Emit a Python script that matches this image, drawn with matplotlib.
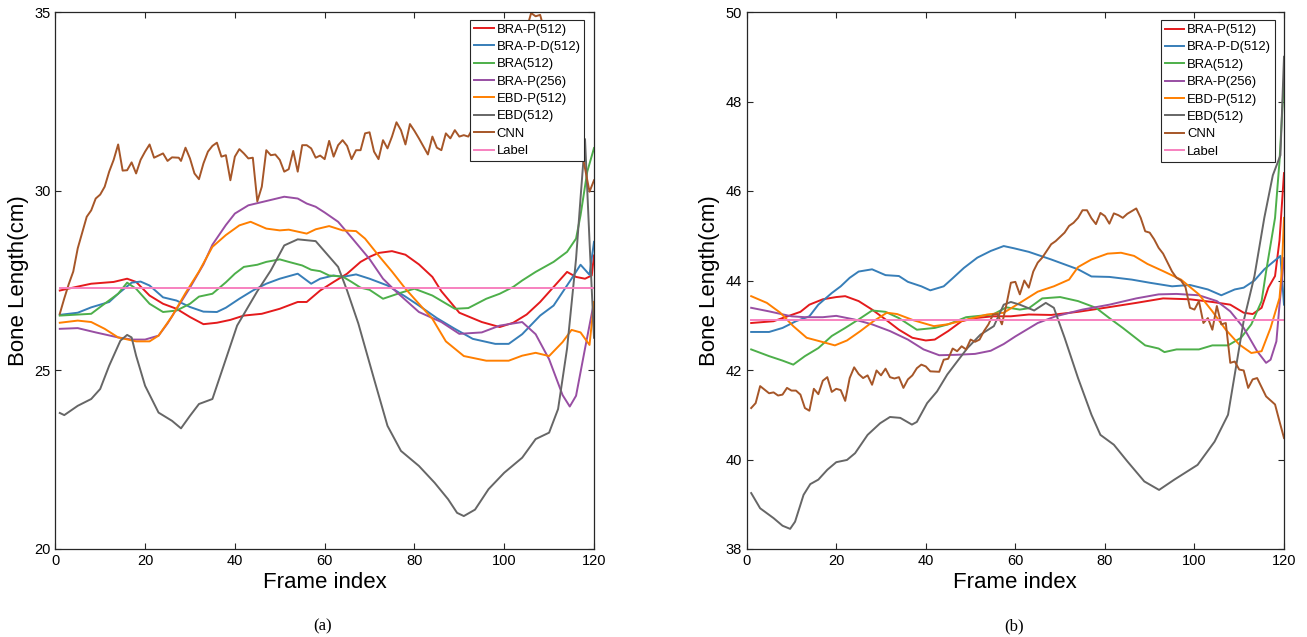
import numpy as np
import matplotlib
matplotlib.use("Agg")
import matplotlib.pyplot as plt

plt.rcParams['font.family'] = ['Liberation Sans', 'DejaVu Sans']

# ---------------- (a) left panel ----------------
a_brap512_f = [1, 5, 8, 13, 16, 18, 21, 24, 27, 30, 33, 36, 39, 42, 46, 50, 54, 56, 59, 62, 65, 68, 70, 72,
               75, 78, 81, 84, 86, 90, 95, 99, 102, 105, 108, 111, 114, 116, 118, 119.5, 120]
a_brap512_v = [27.22, 27.33, 27.41, 27.46, 27.55, 27.46, 27.08, 26.85, 26.71, 26.48, 26.28, 26.32, 26.4, 26.52,
               26.57, 26.71, 26.9, 26.9, 27.22, 27.46, 27.69, 28.02, 28.16, 28.27, 28.32, 28.22, 27.95, 27.6,
               27.2, 26.6, 26.34, 26.2, 26.32, 26.55, 26.9, 27.32, 27.74, 27.6, 27.55, 27.64, 28.2]

a_brapd512_f = [1, 5, 8, 12, 14, 17, 19, 21, 24, 27, 30, 33, 36, 38, 41, 44, 47, 50, 54, 57, 59, 62, 64, 67,
                70, 74, 78, 81, 85, 89, 93, 98, 101, 104, 108, 111, 115, 117, 119, 120]
a_brapd512_v = [26.54, 26.6, 26.75, 26.9, 27.13, 27.44, 27.47, 27.36, 27.03, 26.94, 26.76, 26.63, 26.62, 26.74,
                26.99, 27.22, 27.41, 27.55, 27.69, 27.41, 27.55, 27.64, 27.6, 27.67, 27.55, 27.36, 27.05, 26.8,
                26.45, 26.15, 25.87, 25.73, 25.73, 26.0, 26.52, 26.8, 27.55, 27.94, 27.66, 28.58]

a_bra512_f = [1, 8, 10, 14, 16, 18, 21, 24, 27, 30, 32, 35, 38, 40, 42, 45, 47, 50, 52, 55, 57, 59, 61, 64,
              66, 68, 70, 73, 77, 80, 84, 89, 92, 96, 99, 102, 104, 107, 109, 111, 114, 116, 117, 118.5, 120]
a_bra512_v = [26.52, 26.57, 26.76, 27.13, 27.44, 27.27, 26.85, 26.62, 26.66, 26.85, 27.05, 27.13, 27.45, 27.69,
              27.88, 27.94, 28.02, 28.09, 28.02, 27.92, 27.8, 27.76, 27.64, 27.61, 27.46, 27.3, 27.24, 26.99,
              27.16, 27.27, 27.08, 26.71, 26.73, 26.99, 27.13, 27.32, 27.5, 27.74, 27.88, 28.02, 28.3, 28.67,
              29.32, 30.54, 31.2]

a_brap256_f = [1, 5, 9, 14, 17, 20, 23, 25, 27, 30, 33, 35, 38, 40, 43, 47, 51, 54, 56, 58, 60, 63, 66, 70,
               73, 76, 81, 86, 90, 95, 99, 104, 107, 110, 113, 114.6, 116, 118, 120]
a_brap256_v = [26.15, 26.17, 26.05, 25.91, 25.85, 25.85, 25.96, 26.3, 26.7, 27.3, 27.95, 28.5, 29.05, 29.37,
               29.6, 29.72, 29.84, 29.79, 29.65, 29.56, 29.4, 29.14, 28.7, 28.1, 27.55, 27.18, 26.62, 26.34,
               26.01, 26.05, 26.24, 26.34, 26.0, 25.3, 24.3, 23.98, 24.28, 25.6, 26.9]

a_ebdp512_f = [1, 5, 8, 11, 14, 18, 21, 23, 26, 29, 32, 35, 38, 41, 43.5, 47, 50, 52, 56, 58, 61, 64, 67, 69,
               72, 75, 78, 81, 84, 87, 91, 96, 101, 104, 107, 110, 113, 115, 117, 119, 120]
a_ebdp512_v = [26.32, 26.38, 26.34, 26.15, 25.91, 25.8, 25.8, 25.96, 26.5, 27.15, 27.75, 28.44, 28.77, 29.04,
               29.14, 28.95, 28.9, 28.92, 28.81, 28.93, 29.02, 28.9, 28.88, 28.67, 28.2, 27.75, 27.27, 26.85,
               26.43, 25.8, 25.39, 25.26, 25.26, 25.4, 25.48, 25.39, 25.78, 26.12, 26.05, 25.7, 26.9]

a_ebd512_f = [1, 2, 5, 8, 10, 12, 14.5, 16, 17, 18, 20, 23, 26, 28, 30, 32, 35, 37.5, 40.5, 45, 48, 51, 54,
              58, 60.5, 63, 65, 67.5, 71, 74, 77, 81, 84.5, 87.5, 89.5, 91, 93.5, 96.5, 100, 104, 107, 110,
              112, 114, 116, 117, 118, 119, 120]
a_ebd512_v = [23.8, 23.74, 24.0, 24.19, 24.47, 25.12, 25.82, 25.98, 25.91, 25.4, 24.56, 23.81, 23.58, 23.37,
              23.72, 24.05, 24.19, 25.12, 26.24, 27.2, 27.78, 28.48, 28.65, 28.6, 28.24, 27.88, 27.22, 26.3,
              24.75, 23.44, 22.74, 22.32, 21.85, 21.39, 21.01, 20.92, 21.1, 21.67, 22.13, 22.55, 23.07, 23.25,
              23.91, 25.6, 28.1, 29.8, 31.45, 28.6, 25.9]

a_cnn_f = [1, 2, 3, 4, 5, 7, 8, 9, 10, 11, 12, 13, 14, 15, 16, 17, 18, 19, 20, 21, 22, 24, 25, 26, 27.5,
           28, 29, 30, 31, 32, 33, 34, 35, 36, 37, 38, 39, 40, 41, 42, 43, 44, 45, 46, 47, 48, 49, 50, 51,
           52, 53, 54, 55, 56, 57, 58, 59, 60, 61, 62, 63, 64, 65, 66, 67, 68, 69, 70, 71, 72, 73, 74, 75,
           76, 77, 78, 79, 80, 81, 83, 84, 85, 86, 87, 88, 89, 90, 91, 92, 93, 95, 98, 100, 102, 104, 106,
           107, 108, 110, 112, 114, 116, 117, 118, 119, 120]
a_cnn_v = [26.57, 27.0, 27.4, 27.75, 28.4, 29.28, 29.46, 29.79, 29.9, 30.12, 30.54, 30.87, 31.3, 30.57, 30.58,
           30.8, 30.49, 30.87, 31.1, 31.3, 30.93, 31.05, 30.84, 30.94, 30.93, 30.84, 31.21, 30.91, 30.49, 30.33,
           30.77, 31.1, 31.26, 31.35, 30.96, 31.0, 30.3, 30.96, 31.17, 31.05, 30.91, 30.93, 29.71, 30.12, 31.14,
           31.0, 31.02, 30.87, 30.54, 30.61, 31.12, 30.54, 31.28, 31.28, 31.19, 30.93, 30.99, 30.89, 31.4, 30.96,
           31.28, 31.42, 31.26, 30.89, 31.14, 31.14, 31.61, 31.64, 31.1, 30.89, 31.42, 31.19, 31.52, 31.92, 31.7,
           31.3, 31.87, 31.68, 31.47, 31.02, 31.52, 31.21, 31.14, 31.61, 31.47, 31.7, 31.52, 31.56, 31.52, 31.75,
           31.9, 32.3, 32.8, 33.4, 34.1, 34.97, 34.88, 34.92, 34.0, 33.3, 32.4, 31.6, 31.28, 30.63, 29.98, 30.3]

a_label_f = [1, 120]
a_label_v = [27.28, 27.28]

# ---------------- (b) right panel ----------------
b_brap512_f = [1, 6, 10, 12, 14, 17, 20, 22, 25, 28, 31, 34, 37, 40, 42, 45, 48, 51, 55, 59, 63, 68, 74, 80,
               87, 93, 99, 104, 108, 111, 113, 115, 116.5, 118, 119, 120]
b_brap512_v = [43.05, 43.09, 43.23, 43.3, 43.46, 43.58, 43.63, 43.65, 43.54, 43.35, 43.13, 42.9, 42.72, 42.66,
               42.68, 42.87, 43.09, 43.16, 43.2, 43.2, 43.24, 43.23, 43.3, 43.39, 43.5, 43.6, 43.58, 43.52,
               43.46, 43.28, 43.25, 43.39, 43.84, 44.1, 44.9, 46.4]

b_brapd512_f = [1, 5, 8, 11, 14, 16, 19, 21, 23, 25, 28, 31, 34, 36, 39, 41, 44, 46, 48.5, 51.5, 54.5, 57.4,
                59.7, 63, 68, 74, 77, 81, 86, 90, 95, 99, 103, 106, 109, 111, 113.4, 115.6, 119.2, 120]
b_brapd512_v = [42.85, 42.85, 42.94, 43.09, 43.2, 43.46, 43.72, 43.87, 44.06, 44.2, 44.25, 44.12, 44.1, 43.97,
                43.87, 43.78, 43.87, 44.05, 44.28, 44.51, 44.66, 44.77, 44.72, 44.64, 44.47, 44.25, 44.09,
                44.08, 44.02, 43.95, 43.87, 43.9, 43.8, 43.67, 43.8, 43.84, 44.0, 44.25, 44.55, 43.46]

b_bra512_f = [1, 5, 8, 10.4, 13, 16, 19, 22, 25, 28, 31, 34, 38, 42, 45, 49, 55, 58, 61, 63, 66, 70, 74, 78,
              81, 84, 89, 92, 93.3, 96, 101, 104, 107.5, 110.4, 112.7, 115, 116, 118, 119, 120]
b_bra512_v = [42.46, 42.31, 42.21, 42.12, 42.31, 42.49, 42.76, 42.94, 43.13, 43.33, 43.3, 43.16, 42.9, 42.94,
              43.02, 43.18, 43.24, 43.4, 43.35, 43.38, 43.6, 43.63, 43.54, 43.39, 43.16, 42.94, 42.55, 42.48,
              42.4, 42.46, 42.46, 42.55, 42.55, 42.72, 43.02, 43.54, 44.2, 45.4, 46.67, 48.5]

b_brap256_f = [1, 5, 10, 13, 17, 20, 24, 28, 32, 36, 39.5, 43, 47, 51, 54.5, 57.4, 60, 62, 65, 69, 75, 81,
               87, 92, 96, 101, 105, 108, 111, 114, 116, 117, 118.3, 119, 120]
b_brap256_v = [43.39, 43.31, 43.2, 43.18, 43.18, 43.21, 43.13, 43.02, 42.87, 42.68, 42.46, 42.33, 42.34, 42.36,
               42.43, 42.58, 42.75, 42.87, 43.05, 43.2, 43.35, 43.46, 43.6, 43.69, 43.7, 43.67, 43.54, 43.31,
               42.94, 42.42, 42.16, 42.23, 42.64, 43.46, 44.5]

b_ebdp512_f = [1, 4.5, 7.5, 10.4, 13.4, 16.4, 19.7, 22.4, 25.4, 28.3, 31.3, 33.6, 37.3, 41.8, 44.8, 49.3, 53.7,
               57.4, 61, 65, 68.6, 72, 74, 77, 80.6, 83.6, 86.5, 89.5, 93, 97, 101, 104, 107, 110, 112.7,
               115, 117, 119, 119.5, 120]
b_ebdp512_v = [43.65, 43.5, 43.28, 42.98, 42.72, 42.64, 42.55, 42.66, 42.87, 43.09, 43.28, 43.25, 43.11, 42.98,
               43.02, 43.13, 43.24, 43.28, 43.5, 43.75, 43.87, 44.02, 44.3, 44.47, 44.6, 44.62, 44.55, 44.37,
               44.21, 44.02, 43.69, 43.31, 42.9, 42.57, 42.38, 42.42, 42.94, 43.61, 44.2, 45.4]

b_ebd512_f = [1, 3, 6, 8, 9.7, 10.8, 12.7, 14.2, 16, 18, 20, 22.4, 24.2, 27, 29.8, 32, 34.3, 36.9, 38, 40.3,
              42.5, 44.8, 47, 49.3, 52.2, 55.2, 57.4, 59, 61, 64.2, 66.8, 68.6, 71, 74, 77, 79, 82, 85, 88.8,
              92.1, 95.5, 100.7, 104.5, 107.5, 109, 111, 113.4, 115.6, 117.5, 119.2, 120]
b_ebd512_v = [39.25, 38.91, 38.69, 38.52, 38.45, 38.61, 39.21, 39.45, 39.55, 39.77, 39.94, 39.99, 40.14, 40.55,
              40.81, 40.95, 40.93, 40.78, 40.84, 41.26, 41.52, 41.9, 42.19, 42.49, 42.79, 42.98, 43.46, 43.52,
              43.46, 43.33, 43.5, 43.39, 42.72, 41.82, 41.0, 40.55, 40.33, 39.96, 39.51, 39.32, 39.55, 39.88,
              40.4, 41.0, 41.9, 43.1, 44.1, 45.4, 46.35, 46.8, 49.0]

b_cnn_f = [1, 2, 3, 4, 5, 6, 7, 8, 9, 10, 11, 12, 13, 14, 15, 16, 17, 18, 19, 20, 21, 22, 23, 24, 25, 26, 27,
           28, 29, 30, 31, 32, 33, 34, 35, 36, 37, 38, 39, 40, 41, 43, 44, 45, 46, 47, 48, 49, 50, 51, 52, 53,
           54, 55, 56, 57, 58, 59, 60, 61, 62, 63, 64, 65, 66, 67, 68, 69, 71, 72, 73, 74, 75, 76, 77, 78, 79,
           80, 81, 82, 83, 84, 85, 86, 87, 88, 89, 90, 91, 92, 93, 94, 95, 96, 97, 98, 99, 100, 101, 102, 103,
           104, 105, 106, 107, 108, 109, 110, 111, 112, 113, 114, 116, 118, 119, 120]
b_cnn_v = [41.15, 41.26, 41.64, 41.56, 41.48, 41.5, 41.43, 41.45, 41.6, 41.54, 41.54, 41.45, 41.15, 41.09,
           41.58, 41.46, 41.76, 41.84, 41.51, 41.58, 41.55, 41.31, 41.82, 42.06, 41.91, 41.82, 41.88, 41.67,
           41.99, 41.88, 42.03, 41.84, 41.81, 41.84, 41.6, 41.79, 41.88, 42.04, 42.12, 42.08, 41.97, 41.96,
           42.23, 42.25, 42.48, 42.42, 42.53, 42.46, 42.68, 42.63, 42.68, 42.87, 43.02, 43.24, 43.25, 43.02,
           43.46, 43.95, 43.97, 43.69, 44.0, 43.84, 44.2, 44.4, 44.51, 44.66, 44.81, 44.88, 45.07, 45.22,
           45.29, 45.4, 45.57, 45.57, 45.39, 45.26, 45.51, 45.44, 45.27, 45.5, 45.46, 45.4, 45.49, 45.55,
           45.61, 45.4, 45.1, 45.07, 44.92, 44.73, 44.6, 44.4, 44.2, 44.06, 44.0, 43.85, 43.39, 43.35, 43.54,
           43.05, 43.16, 42.9, 43.43, 43.02, 43.05, 42.16, 42.19, 42.01, 41.99, 41.6, 41.79, 41.82, 41.41,
           41.23, 40.85, 40.48]

b_label_f = [1, 120]
b_label_v = [43.12, 43.12]

names = ['BRA-P(512)', 'BRA-P-D(512)', 'BRA(512)', 'BRA-P(256)', 'EBD-P(512)', 'EBD(512)', 'CNN', 'Label']
colors = ['#e41a1c', '#377eb8', '#4daf4a', '#984ea3', '#ff7f00', '#666666', '#a65628', '#f781bf']

left_series = [(a_brap512_f, a_brap512_v), (a_brapd512_f, a_brapd512_v), (a_bra512_f, a_bra512_v),
               (a_brap256_f, a_brap256_v), (a_ebdp512_f, a_ebdp512_v), (a_ebd512_f, a_ebd512_v),
               (a_cnn_f, a_cnn_v), (a_label_f, a_label_v)]
right_series = [(b_brap512_f, b_brap512_v), (b_brapd512_f, b_brapd512_v), (b_bra512_f, b_bra512_v),
                (b_brap256_f, b_brap256_v), (b_ebdp512_f, b_ebdp512_v), (b_ebd512_f, b_ebd512_v),
                (b_cnn_f, b_cnn_v), (b_label_f, b_label_v)]

W, H = 1307, 637
fig = plt.figure(figsize=(W / 100, H / 100), dpi=100)
ax1 = fig.add_axes([55.3 / W, 88 / H, 538.7 / W, 537 / H])
ax2 = fig.add_axes([746.7 / W, 88 / H, 537.3 / W, 537 / H])

def draw(ax, series, ylim, yticks, anchor):
    for (f, v), name, c in zip(series, names, colors):
        ax.plot(f, v, color=c, lw=1.4, label=name)
    ax.set_xlim(0, 120)
    ax.set_ylim(*ylim)
    ax.set_xticks(np.arange(0, 121, 20))
    ax.set_yticks(yticks)
    ax.tick_params(direction='in', top=True, right=True, length=4, width=0.8,
                   labelsize=10.5, colors='#262626', labelcolor='black')
    for s in ax.spines.values():
        s.set_color('#262626')
        s.set_linewidth(0.9)
    ax.set_xlabel('Frame index', fontsize=16, labelpad=3)
    ax.set_ylabel('Bone Length(cm)', fontsize=16, labelpad=4)
    leg = ax.legend(loc='upper right', bbox_to_anchor=anchor, borderaxespad=0, fontsize=9.4,
                    handlelength=1.5, handletextpad=0.2, borderpad=0.3, labelspacing=0.4,
                    fancybox=False, framealpha=1)
    leg.get_frame().set_edgecolor('#262626')
    leg.get_frame().set_linewidth(0.8)

draw(ax1, left_series, (20, 35), [20, 25, 30, 35], (0.982, 0.986))
draw(ax2, right_series, (38, 50), np.arange(38, 51, 2), (0.983, 0.985))

fig.text(323 / W, 1 - 626 / H, '(a)', ha='center', va='center', fontsize=12, family='Liberation Serif')
fig.text(1014 / W, 1 - 626 / H, '(b)', ha='center', va='center', fontsize=12, family='Liberation Serif')

fig.savefig('out.png', dpi=100)
